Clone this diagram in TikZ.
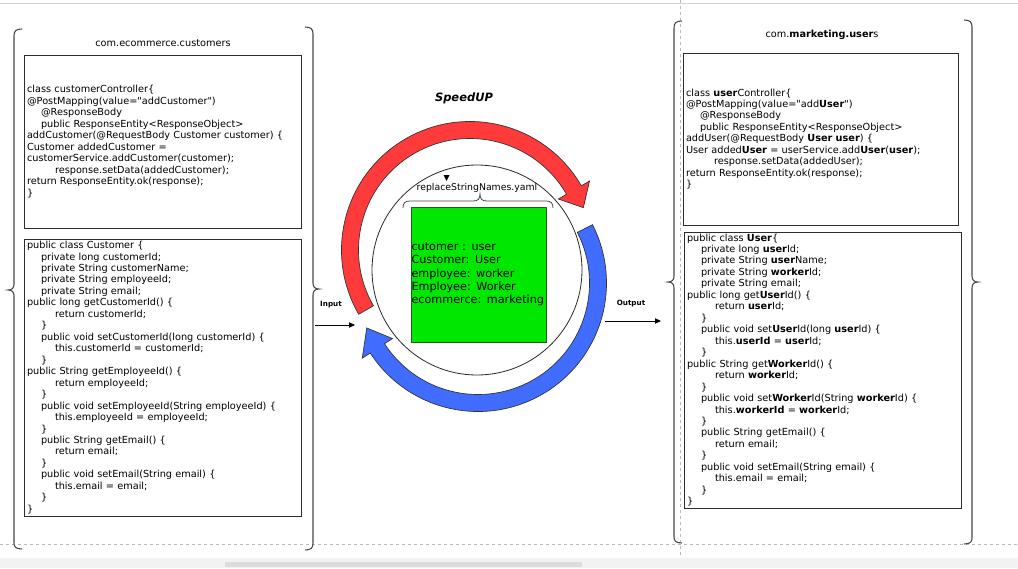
\documentclass[tikz,border=0pt]{standalone}
\usepackage{fontspec}
\setmainfont{DejaVu Sans}
\usetikzlibrary{arrows.meta}
\newcommand{\codesize}{\fontsize{7.3}{8.6}\selectfont}
\newcommand{\tabin}{\hspace*{10.5pt}}

\begin{document}
\begin{tikzpicture}[x=0.75pt,y=0.75pt,yscale=-1,xscale=1,
	codebox/.style={draw={rgb,255:red,45;green,45;blue,45}, line width=0.75pt, inner xsep=2.25pt, inner ysep=0pt, align=left, font=\codesize},
	pkgtitle/.style={font=\codesize, inner sep=0pt},
	bracket/.style={draw={rgb,255:red,70;green,70;blue,70}, line width=0.8pt},
	pagebreak/.style={draw={rgb,255:red,185;green,185;blue,185}, line width=0.5pt, dash pattern={on 2.25pt off 2.25pt}},
	ioarrow/.style={draw=black, line width=0.6pt, -{Triangle[length=4.5pt,width=4pt]}},
	iolabel/.style={font=\fontsize{5.4}{6}\selectfont\bfseries, inner sep=0pt},
	loopband/.style={draw={rgb,255:red,50;green,50;blue,50}, line width=0.5pt}
]
	\useasboundingbox (0,0) rectangle (1018,568);
	
	%Page frame
	\draw [draw={rgb,255:red,212;green,212;blue,212}, line width=0.9pt] (0,3.5) -- (1018,3.5) ;
	\draw [pagebreak] (680.5,0) -- (680.5,568) ;
	\draw [pagebreak] (0,544) -- (1018,544) ;
	\fill [fill={rgb,255:red,242;green,242;blue,242}] (0,558) rectangle (1018,568) ;
	\fill [fill={rgb,255:red,220;green,220;blue,220}] (225,562) rectangle (582,567) ;
	
	%Shape: Brackets of com.ecommerce.customers
	\draw [bracket] (22,29) .. controls (16,29) and (14,31) .. (14,36) -- (14,284) .. controls (14,288) and (12,290) .. (8,290) .. controls (12,290) and (14,292) .. (14,296) -- (14,543) .. controls (14,547) and (16,549) .. (22,549) ;
	\draw [bracket] (305,27) .. controls (311,27) and (313,29) .. (313,34) -- (313,283) .. controls (313,287) and (315,289) .. (319,289) .. controls (315,289) and (313,291) .. (313,295) -- (313,543) .. controls (313,548) and (311,550) .. (305,550) ;
	
	%Shape: Brackets of com.marketing.users
	\draw [bracket] (682,21) .. controls (676,21) and (674,23) .. (674,28) -- (674,276) .. controls (674,280) and (672,282) .. (668,282) .. controls (672,282) and (674,284) .. (674,288) -- (674,537) .. controls (674,541) and (676,543) .. (682,543) ;
	\draw [bracket] (964,20) .. controls (970,20) and (972,22) .. (972,27) -- (972,276) .. controls (972,280) and (974,282) .. (978,282) .. controls (974,282) and (972,284) .. (972,288) -- (972,538) .. controls (972,542) and (970,544) .. (964,544) ;
	
	% Text Node
	\node [pkgtitle] (ecomTitle) at (163,43) {com.ecommerce.customers};
	% Text Node
	\node [pkgtitle] (mktTitle) at (822,35) {com.\textbf{marketing.user}s};
	
	%Shape: Rectangle
	\node [codebox, text width=203.25pt, minimum height=129.75pt] (custCtrl) at (162.5,141.5) {class customerController\{\\
		@PostMapping(value=\textquotedbl addCustomer\textquotedbl)\\
		\tabin@ResponseBody\\
		\tabin public ResponseEntity<ResponseObject>\\
		addCustomer(@RequestBody Customer customer) \{\\
		Customer addedCustomer =\\
		customerService.addCustomer(customer);\\
		\tabin\tabin response.setData(addedCustomer);\\
		return ResponseEntity.ok(response);\\
		\}};
	
	%Shape: Rectangle
	\node [codebox, text width=203.25pt, minimum height=207.75pt] (custClass) at (162.5,377.5) {public class Customer \{\\
		\tabin private long customerId;\\
		\tabin private String customerName;\\
		\tabin private String employeeId;\\
		\tabin private String email;\\
		public long getCustomerId() \{\\
		\tabin\tabin return customerId;\\
		\tabin\}\\
		\tabin public void setCustomerId(long customerId) \{\\
		\tabin\tabin this.customerId = customerId;\\
		\tabin\}\\
		public String getEmployeeId() \{\\
		\tabin\tabin return employeeId;\\
		\tabin\}\\
		\tabin public void setEmployeeId(String employeeId) \{\\
		\tabin\tabin this.employeeId = employeeId;\\
		\tabin\}\\
		\tabin public String getEmail() \{\\
		\tabin\tabin return email;\\
		\tabin\}\\
		\tabin public void setEmail(String email) \{\\
		\tabin\tabin this.email = email;\\
		\tabin\}\\
		\}};
	
	%Shape: Rectangle
	\node [codebox, text width=201.75pt, minimum height=129pt] (userCtrl) at (820.5,139) {class \textbf{user}Controller\{\\
		@PostMapping(value=\textquotedbl add\textbf{User}\textquotedbl)\\
		\tabin@ResponseBody\\
		\tabin public ResponseEntity<ResponseObject>\\
		addUser(@RequestBody \textbf{User user}) \{\\
		User added\textbf{User} = userService.add\textbf{User}(\textbf{user});\\
		\tabin\tabin response.setData(addedUser);\\
		return ResponseEntity.ok(response);\\
		\}};
	
	%Shape: Rectangle
	\node [codebox, text width=203.25pt, minimum height=207pt] (userClass) at (822.5,370) {public class \textbf{User}\{\\
		\tabin private long \textbf{user}Id;\\
		\tabin private String \textbf{user}Name;\\
		\tabin private String \textbf{worker}Id;\\
		\tabin private String email;\\
		public long get\textbf{User}Id() \{\\
		\tabin\tabin return \textbf{user}Id;\\
		\tabin\}\\
		\tabin public void set\textbf{User}Id(long \textbf{user}Id) \{\\
		\tabin\tabin this.\textbf{userId} = \textbf{user}Id;\\
		\tabin\}\\
		public String get\textbf{Worker}Id() \{\\
		\tabin\tabin return \textbf{worker}Id;\\
		\tabin\}\\
		\tabin public void set\textbf{Worker}Id(String \textbf{worker}Id) \{\\
		\tabin\tabin this.\textbf{workerId} = \textbf{worker}Id;\\
		\tabin\}\\
		\tabin public String getEmail() \{\\
		\tabin\tabin return email;\\
		\tabin\}\\
		\tabin public void setEmail(String email) \{\\
		\tabin\tabin this.email = email;\\
		\tabin\}\\
		\}};
	
	% Text Node
	\node [font=\fontsize{8.6}{10}\selectfont\bfseries\itshape, inner sep=0pt] (speedup) at (464,98) {SpeedUP};
	
	%Shape: Circle
	\node [draw={rgb,255:red,40;green,40;blue,40}, line width=0.6pt, circle, inner sep=0pt, minimum size=157.5pt] (ring) at (477,270) {};
	
	%Shape: Circular Arrow (red)
	\begin{scope}[shift={(470,250)}, yscale=-1]
		\filldraw [loopband, fill={rgb,255:red,255;green,58;blue,58}] (210:111.5) arc [start angle=210, end angle=30, radius=111.5] -- (30:102) -- (20.5:121) -- (30:138) -- (30:128.5) arc [start angle=30, end angle=210, radius=128.5] -- cycle ;
	\end{scope}
	%Shape: Circular Arrow (blue)
	\begin{scope}[shift={(478,283)}, yscale=-1]
		\filldraw [loopband, fill={rgb,255:red,64;green,108;blue,255}] (27:111.5) arc [start angle=27, end angle=-147, radius=111.5] -- (-147:102) -- (-158:120) -- (-147:138) -- (-147:128.5) arc [start angle=-147, end angle=27, radius=128.5] -- cycle ;
	\end{scope}
	
	%Shape: Square
	\node [draw={rgb,255:red,30;green,90;blue,30}, line width=0.75pt, fill={rgb,255:red,0;green,232;blue,0}, inner xsep=0.4pt, inner ysep=0pt, text width=100.45pt, minimum height=101.25pt, align=left, font=\fontsize{8.4}{10}\selectfont] (yaml) at (478.5,274.5) {cutomer : user\\Customer: User\\employee: worker\\Employee: Worker\\ecommerce: marketing};
	
	%Shape: Brace
	\draw [bracket, line width=0.6pt] (403,208) .. controls (403,203) and (405,201) .. (410,201) -- (473,201) .. controls (478,201) and (480,199) .. (480,194) .. controls (480,199) and (482,201) .. (487,201) -- (546,201) .. controls (551,201) and (553,203) .. (553,208) ;
	\fill (443.5,175) -- (449.5,175) -- (446.5,181) -- cycle ;
	% Text Node
	\node [font=\fontsize{7}{8}\selectfont, inner sep=0pt] (yamlName) at (477,188) {replaceStringNames.yaml};
	
	%Straight Lines
	\coordinate (inStart) at (315,325) ;
	\coordinate (inEnd) at (355,325) ;
	\draw [ioarrow] (inStart) -- (inEnd) ;
	\coordinate (outStart) at (605,321) ;
	\coordinate (outEnd) at (661,321) ;
	\draw [ioarrow] (outStart) -- (outEnd) ;
	
	% Text Node
	\node [iolabel] (inLabel) at (331,305) {Input};
	% Text Node
	\node [iolabel] (outLabel) at (631,304) {Output};
\end{tikzpicture}
\end{document}
